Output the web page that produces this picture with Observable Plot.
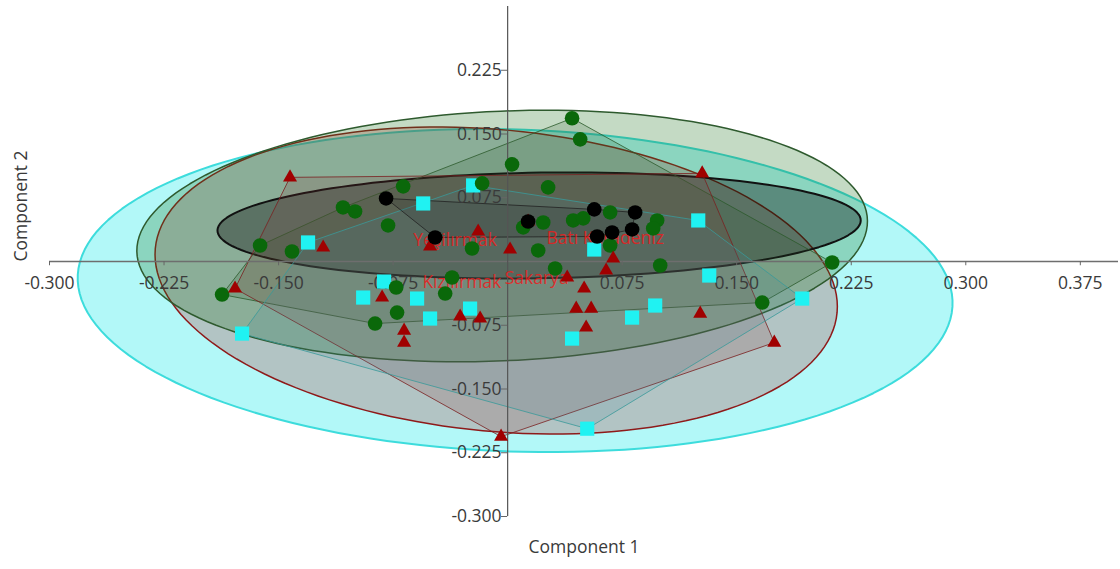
<!DOCTYPE html>
<html>
<head>
<meta charset="utf-8">
<script src="https://cdn.jsdelivr.net/npm/d3@7"></script>
<script src="https://cdn.jsdelivr.net/npm/@observablehq/plot@0.6"></script>
<style>
  html, body { margin: 0; padding: 0; background: #fff; }
  #chart { width: 1120px; height: 569px; overflow: hidden; }
</style>
</head>
<body>
<div id="chart"></div>
<script>
// ---- Points (Component 1, Component 2) per group ----
const greenX = [0.0422,0.0475,0.0029,0.0265,-0.0684,-0.0167,-0.1078,-0.0999,-0.0783,-0.1621,-0.1412,-0.0233,0.0200,0.0233,0.0102,0.0429,0.0495,0.0671,0.0979,0.0953,0.0671,0.0311,0.0999,-0.0364,-0.0730,-0.0409,-0.0724,-0.0868,-0.1870,0.1667,0.2125];
const greenY = [0.1685,0.1437,0.1143,0.0872,0.0884,0.0919,0.0636,0.0589,0.0424,0.0188,0.0118,0.0153,0.0130,0.0459,0.0401,0.0483,0.0507,0.0577,0.0483,0.0389,0.0188,-0.0082,-0.0047,-0.0188,-0.0306,-0.0377,-0.0601,-0.0730,-0.0389,-0.0483,-0.0012];

const blackX = [-0.0796,-0.0475,0.0134,0.0567,0.0835,0.0586,0.0684,0.0815];
const blackY = [0.0742,0.0283,0.0471,0.0613,0.0577,0.0294,0.0342,0.0377];

const redX = [-0.1425,-0.1208,-0.1785,-0.0508,-0.0193,0.0016,0.0134,-0.0822,-0.0678,-0.0678,-0.0311,-0.0180,0.1274,0.0691,0.0645,0.0390,0.0501,0.0449,0.0547,0.0514,0.1261,0.1746,-0.0043];
const redY = [0.0990,0.0165,-0.0318,0.0177,0.0353,0.0141,0.0471,-0.0424,-0.0813,-0.0954,-0.0648,-0.0671,0.1037,0.0035,-0.0106,-0.0188,-0.0318,-0.0554,-0.0554,-0.0777,-0.0613,-0.0954,-0.2061];

const cyanX = [-0.0226,-0.0553,-0.1307,-0.0809,-0.0946,-0.0593,-0.0508,-0.0246,-0.1739,0.1248,0.0567,0.1320,0.0966,0.0815,0.0422,0.1929,0.0521];
const cyanY = [0.0895,0.0683,0.0224,-0.0236,-0.0424,-0.0436,-0.0671,-0.0554,-0.0848,0.0483,0.0141,-0.0165,-0.0518,-0.0660,-0.0907,-0.0436,-0.1967];

// ---- 95% ellipses: centre and two conjugate semi-diameters (data units) ----
const ellipseGroup = ["cyan","red","green","black"];
const ellipseCX = [0.0049,-0.0075,-0.0036,0.0206];
const ellipseCY = [-0.0342,-0.0224,0.0300,0.0424];
const ellipseAX = [0.2860,0.2234,0.2384,0.2090];
const ellipseAY = [-0.0040,-0.0306,0.0294,-0.0018];
const ellipseBX = [-0.0160,0.0000,-0.0197,0.0260];
const ellipseBY = [0.1900,0.1780,0.1450,0.0624];

// ---- Group labels ----
const labelText = ["Yeşilırmak","Batı Karadeniz","Kızılırmak","Sakarya"];
const labelX = [-0.0344,0.0639,-0.0300,0.0190];
const labelY = [0.0247,0.0271,-0.0247,-0.0200];

// ---- Axis ticks ----
const xTicks = [-0.300,-0.225,-0.150,-0.075,0.075,0.150,0.225,0.300,0.375];
const xTickLabels = ["-0.300","-0.225","-0.150","-0.075","0.075","0.150","0.225","0.300","0.375"];
const yTicks = [0.225,0.150,0.075,-0.075,-0.150,-0.225,-0.300];
const yTickLabels = ["0.225","0.150","0.075","-0.075","-0.150","-0.225","-0.300"];

// ---- styling ----
const style = {
  cyan:  {fill: "#00e8e8", fillOpacity: 0.30, stroke: "#3ddcdc", sw: 2,   hull: "#3a9a9a", hullFill: "#4a8a9a", pt: "#20f2f2"},
  red:   {fill: "#b42020", fillOpacity: 0.24, stroke: "#8e1a1a", sw: 1.5, hull: "#7a2020", hullFill: "#8a3030", pt: "#a00000"},
  green: {fill: "#1a701a", fillOpacity: 0.26, stroke: "#2e5a2e", sw: 1.5, hull: "#2c5a2c", hullFill: "#2a5a2a", pt: "#0a680a"},
  black: {fill: "#000000", fillOpacity: 0.34, stroke: "#111111", sw: 2,   hull: "#222222", hullFill: "#222222", pt: "#000000"}
};

const zip = (xs, ys) => xs.map((x, i) => ({x, y: ys[i]}));
const pts = {green: zip(greenX, greenY), black: zip(blackX, blackY), red: zip(redX, redY), cyan: zip(cyanX, cyanY)};

function ellipsePoints(i) {
  const out = [];
  const n = 160;
  for (let k = 0; k < n; k++) {
    const t = 2 * Math.PI * k / n;
    out.push({
      x: ellipseCX[i] + ellipseAX[i] * Math.cos(t) + ellipseBX[i] * Math.sin(t),
      y: ellipseCY[i] + ellipseAY[i] * Math.cos(t) + ellipseBY[i] * Math.sin(t)
    });
  }
  return out;
}

const font = "'Open Sans', 'Noto Sans', sans-serif";
const fs = 17.5;
const marks = [];

// ellipses
ellipseGroup.forEach((g, i) => {
  const s = style[g];
  marks.push(Plot.line(ellipsePoints(i), {x: "x", y: "y", curve: "linear-closed",
    fill: s.fill, fillOpacity: s.fillOpacity, stroke: s.stroke, strokeWidth: s.sw}));
});

// convex hulls
["green","red","cyan","black"].forEach(g => {
  const s = style[g];
  marks.push(Plot.hull(pts[g], {x: "x", y: "y", fill: s.hullFill, fillOpacity: 0.17,
    stroke: s.hull, strokeOpacity: 0.8, strokeWidth: 1}));
});

// axes through origin
marks.push(Plot.ruleY([0], {stroke: "#6e6e6e", strokeWidth: 1.5}));
marks.push(Plot.ruleX([0], {stroke: "#555", strokeWidth: 1.2}));
marks.push(Plot.ruleX(xTicks, {x: d => d, y1: 0, y2: -0.005, stroke: "#666"}));
marks.push(Plot.ruleY(yTicks, {y: d => d, x1: -0.004, x2: 0, stroke: "#666"}));
marks.push(Plot.text(xTicks, {x: d => d, y: 0, dy: 22, text: (d, i) => xTickLabels[i],
  fontSize: fs, fill: "#3a3a3a", fontFamily: font}));
marks.push(Plot.text(yTicks, {x: 0, y: d => d, dx: -6, textAnchor: "end", text: (d, i) => yTickLabels[i],
  fontSize: fs, fill: "#3a3a3a", fontFamily: font}));

// group labels
marks.push(Plot.text(labelText, {x: (d, i) => labelX[i], y: (d, i) => labelY[i], text: d => d,
  fontSize: fs, fill: "#ec1c1c", fillOpacity: 0.85, fontFamily: font}));

// points
marks.push(Plot.dot(pts.cyan,  {x: "x", y: "y", symbol: "square",   r: 8,   fill: style.cyan.pt}));
marks.push(Plot.dot(pts.green, {x: "x", y: "y", symbol: "circle",   r: 7.3, fill: style.green.pt}));
marks.push(Plot.dot(pts.red,   {x: "x", y: "y", symbol: "triangle", r: 5.2, fill: style.red.pt}));
marks.push(Plot.dot(pts.black, {x: "x", y: "y", symbol: "circle",   r: 7.3, fill: style.black.pt}));

// axis titles
marks.push(Plot.text(["Component 1"], {frameAnchor: "bottom", dy: 36, fontSize: fs, fill: "#3a3a3a", fontFamily: font}));
marks.push(Plot.text(["Component 2"], {frameAnchor: "left", dx: -28, rotate: -90, fontSize: fs, fill: "#3a3a3a", fontFamily: font}));

const chart = Plot.plot({
  width: 1120,
  height: 569,
  marginLeft: 49,
  marginRight: 2,
  marginTop: 6,
  marginBottom: 53,
  x: {domain: [-0.3, 0.4], axis: null},
  y: {domain: [-0.3, 0.3], axis: null},
  style: {background: "#fff", overflow: "visible"},
  marks
});
document.getElementById("chart").appendChild(chart);
</script>
</body>
</html>
